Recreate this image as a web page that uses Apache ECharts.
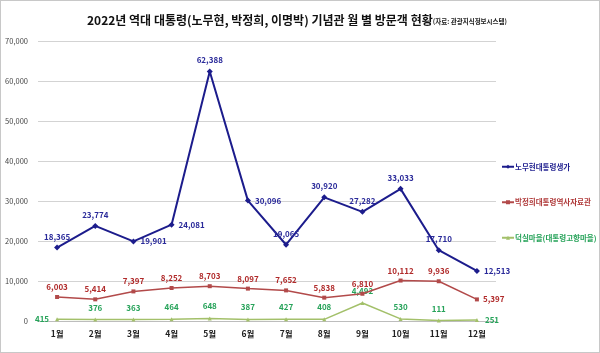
<!DOCTYPE html>
<html>
<head>
<meta charset="utf-8">
<script src="https://cdn.jsdelivr.net/npm/echarts@6/dist/echarts.min.js"></script>
<style>
html, body { margin: 0; padding: 0; background: #fff; }
#main { width: 598px; height: 351px; border: 1px solid #c8c8c8; }
</style>
</head>
<body>
<div id="main"></div>
<script>
var months = ['1월', '2월', '3월', '4월', '5월', '6월', '7월', '8월', '9월', '10월', '11월', '12월'];
var roh = [18365, 23774, 19901, 24081, 62388, 30096, 19065, 30920, 27282, 33033, 17710, 12513];
var park = [6003, 5414, 7397, 8252, 8703, 8097, 7652, 5838, 6810, 10112, 9936, 5397];
var duksil = [415, 376, 363, 464, 648, 387, 427, 408, 4492, 530, 111, 251];
var names = ['노무현대통령생가', '박정희대통령역사자료관', '덕실마을(대통령고향마을)'];

// 라벨 위치 (대부분 위, 일부 오른쪽)
var rohPos = ['top', 'top', 'right', 'right', 'top', 'right', 'top', 'top', 'top', 'top', 'top', 'right'];
var parkPos = ['top', 'top', 'top', 'top', 'top', 'top', 'top', 'top', 'top', 'top', 'top', 'right'];
var duksilPos = ['left', 'top', 'top', 'top', 'top', 'top', 'top', 'top', 'top', 'top', 'top', 'right'];

var font = 'Noto Sans CJK KR';

function makeData(vals, pos) {
    return vals.map(function (v, i) {
        return { value: v, label: { position: pos[i] } };
    });
}

function fmt(p) { return p.value.toLocaleString('en-US'); }

var chart = echarts.init(document.getElementById('main'));

var option = {
    animation: false,
    textStyle: { fontFamily: font },
    title: {
        text: '{a|2022년 역대 대통령(노무현, 박정희, 이명박) 기념관 월 별 방문객 현황}{b|(자료: 관광지식정보시스템)}',
        left: 81,
        top: 8,
        textStyle: {
            rich: {
                a: { fontFamily: font, fontSize: 12, fontWeight: 'bold', color: '#111' },
                b: { fontFamily: font, fontSize: 6.5, fontWeight: 'bold', color: '#222', padding: [3, 0, 0, 0] }
            }
        }
    },
    grid: { left: 37, right: 103, top: 40, bottom: 31, containLabel: false },
    legend: {
        orient: 'vertical',
        left: 495,
        top: 157,
        itemGap: 28,
        itemWidth: 12,
        itemHeight: 5,
        textStyle: { fontFamily: font, fontSize: 7.5, fontWeight: 'bold', padding: [0, 0, 0, -4] },
        data: [
            { name: names[0], textStyle: { color: '#1f1f8f' } },
            { name: names[1], textStyle: { color: '#b03a3a' } },
            { name: names[2], textStyle: { color: '#27a35a' } }
        ]
    },
    xAxis: {
        type: 'category',
        data: months,
        axisLine: { lineStyle: { color: '#bdbdbd' } },
        axisTick: { show: false },
        axisLabel: { fontFamily: font, fontSize: 8.5, fontWeight: 'bold', color: '#222', margin: 9 }
    },
    yAxis: {
        type: 'value',
        min: 0,
        max: 70000,
        interval: 10000,
        axisLine: { show: false },
        axisTick: { show: false },
        splitLine: { lineStyle: { color: '#d3d3d3', width: 1 } },
        axisLabel: {
            fontFamily: font, fontSize: 7.5, color: '#444', margin: 10,
            formatter: function (v) { return v.toLocaleString('en-US'); }
        }
    },
    series: [
        {
            name: names[0],
            type: 'line',
            data: makeData(roh, rohPos),
            symbol: 'diamond',
            symbolSize: 6,
            lineStyle: { color: '#1c1c8c', width: 2 },
            itemStyle: { color: '#1c1c8c' },
            label: { show: true, fontSize: 8, fontWeight: 'bold', color: '#2a2a9a', distance: 4, formatter: fmt },
            z: 3
        },
        {
            name: names[1],
            type: 'line',
            data: makeData(park, parkPos),
            symbol: 'rect',
            symbolSize: 4,
            lineStyle: { color: '#b24a4a', width: 1.5 },
            itemStyle: { color: '#b24a4a' },
            label: { show: true, fontSize: 8, fontWeight: 'bold', color: '#b02a2a', distance: 4, formatter: fmt },
            z: 2
        },
        {
            name: names[2],
            type: 'line',
            data: makeData(duksil, duksilPos),
            symbol: 'triangle',
            symbolSize: 4,
            lineStyle: { color: '#a3c06a', width: 1.5 },
            itemStyle: { color: '#a3c06a' },
            label: { show: true, fontSize: 8, fontWeight: 'bold', color: '#27a35a', distance: 6, formatter: fmt },
            z: 1
        }
    ]
};

chart.setOption(option);
</script>
</body>
</html>
